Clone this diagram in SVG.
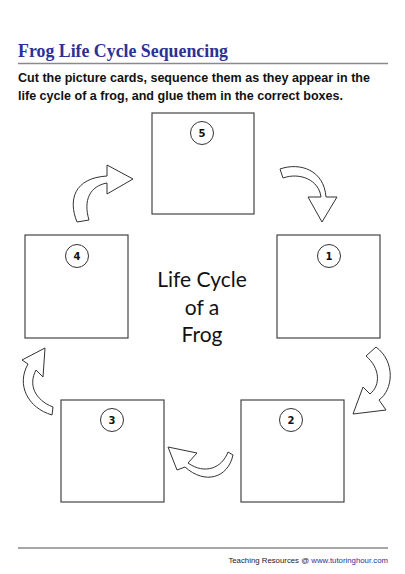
<svg xmlns="http://www.w3.org/2000/svg" width="405" height="574" viewBox="0 0 405 574">
<style>
.box{fill:#fff;stroke:#444;stroke-width:1.2}
.num{fill:#fff;stroke:#333;stroke-width:1}
.numt{font-family:"DejaVu Sans",sans-serif;font-weight:bold;font-size:10px;fill:#111;text-anchor:middle}
.arrow{fill:#fff;stroke:#333;stroke-width:1;stroke-linejoin:miter}
.rule{stroke:#8a8a8a;stroke-width:1.5}
.center{font-family:Lato,"Open Sans",sans-serif;font-size:21px;fill:#111;text-anchor:middle}
.instr{font-family:"Liberation Sans",Arial,sans-serif;font-weight:bold;font-size:12.2px;fill:#111}
</style>
<rect width="405" height="574" fill="#fff"/>
<g id="header">
<text x="18" y="57" font-family="Liberation Serif,serif" font-weight="bold" font-size="19" fill="#2e3192" textLength="210" lengthAdjust="spacingAndGlyphs">Frog Life Cycle Sequencing</text>
<line class="rule" x1="18" y1="63.5" x2="388" y2="63.5"/>
<text class="instr" x="18" y="82" textLength="352" lengthAdjust="spacingAndGlyphs">Cut the picture cards, sequence them as they appear in the</text>
<text class="instr" x="18" y="100" textLength="325" lengthAdjust="spacingAndGlyphs">life cycle of a frog, and glue them in the correct boxes.</text>
</g>
<g id="node-5">
<rect class="box" x="152" y="113" width="102" height="101"/>
<circle class="num" cx="202" cy="133" r="11.5"/>
<text class="numt" x="202" y="137">5</text>
</g>
<g id="node-4">
<rect class="box" x="25" y="235" width="103" height="103"/>
<circle class="num" cx="77" cy="256" r="11.5"/>
<text class="numt" x="77" y="260">4</text>
</g>
<g id="node-1">
<rect class="box" x="277" y="235" width="103" height="103"/>
<circle class="num" cx="329" cy="256" r="11.5"/>
<text class="numt" x="329" y="260">1</text>
</g>
<g id="node-3">
<rect class="box" x="61" y="400" width="103" height="102"/>
<circle class="num" cx="112" cy="420" r="11.5"/>
<text class="numt" x="112" y="424">3</text>
</g>
<g id="node-2">
<rect class="box" x="241" y="400" width="103" height="102"/>
<circle class="num" cx="291" cy="420" r="11.5"/>
<text class="numt" x="291" y="424">2</text>
</g>
<g id="center-title">
<text class="center" x="202" y="287">Life Cycle</text>
<text class="center" x="202" y="315">of a</text>
<text class="center" x="202" y="342">Frog</text>
</g>
<g id="connectors">
<path class="arrow" d="M77,222 C68,200 74,178 107,176 L107,165 L133,179 L107,194 L107,183 C90,186 83,200 89,220 Z"/>
<path class="arrow" d="M280,169 C300,162 324,170 326,197 L337,197 L322,222 L308,197 L321,197 C319,180 300,172 283,178 Z"/>
<path class="arrow" d="M366,356 L376,347 C396,362 393,390 379,400 L386,410 L353,414 L363,387 L370,394 C381,385 380,368 366,356 Z"/>
<path class="arrow" d="M168,447 L197,453 L188,463 C205,475 222,468 228,452 L233,455 C228,478 205,485 185,467 L177,470 Z"/>
<path class="arrow" d="M45,348 L43,377 L36,370 C28,385 35,400 53,407 L52,415 C28,408 16,385 28,364 L22,360 Z"/>
</g>
<g id="footer">
<line class="rule" x1="18" y1="548" x2="388" y2="548"/>
<text x="388" y="563" text-anchor="end" font-family="Liberation Sans,sans-serif" font-size="7.8" fill="#222">Teaching Resources @ <tspan fill="#2e3192">www.tutoringhour.com</tspan></text>
</g>
</svg>
